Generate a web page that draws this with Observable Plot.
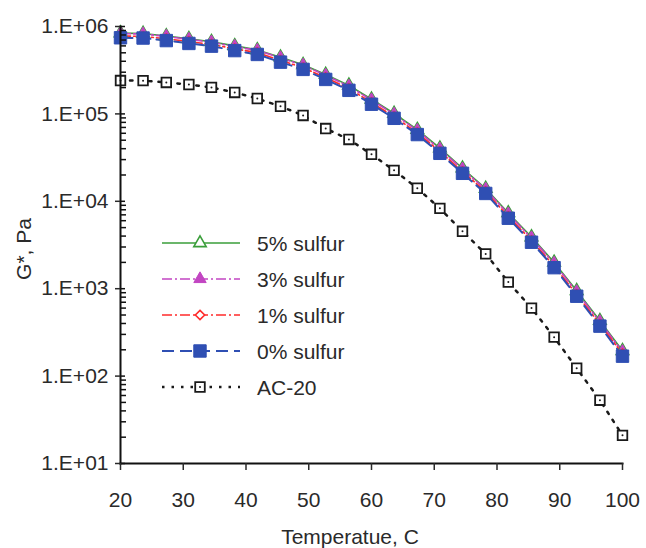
<!DOCTYPE html>
<html><head><meta charset="utf-8">
<script src="https://cdn.jsdelivr.net/npm/d3@7"></script>
<script src="https://cdn.jsdelivr.net/npm/@observablehq/plot@0.6"></script>
<style>
body{margin:0;background:#fff;}
#wrap{position:relative;width:646px;height:548px;font-family:"Liberation Sans",Arial,sans-serif;}
#legend{position:absolute;left:0;top:0;pointer-events:none;}
</style></head><body><div id="wrap"></div>
<script>
// ---- data ----
const temperature = [20, 23.6, 27.3, 30.9, 34.5, 38.2, 41.8, 45.5, 49.1, 52.7, 56.4, 60, 63.6, 67.3, 70.9, 74.5, 78.2, 81.8, 85.5, 89.1, 92.7, 96.4, 100];
const sulfur5 = [840000, 830000, 780000, 725000, 670000, 600000, 540000, 445000, 365000, 282000, 212000, 147000, 101000, 66000, 40500, 23900, 14000, 7350, 3900, 2000, 945, 430, 195];
const sulfur3 = [830000, 820000, 770000, 712000, 660000, 590000, 532000, 437000, 360000, 276000, 207000, 144000, 99000, 64500, 39500, 23300, 13700, 7150, 3800, 1950, 920, 418, 190];
const sulfur1 = [780000, 770000, 725000, 672000, 625000, 556000, 502000, 410000, 338000, 260000, 195000, 135000, 93000, 60800, 37100, 21900, 12900, 6700, 3560, 1820, 860, 392, 180];
const sulfur0 = [743000, 738000, 690000, 640000, 596000, 530000, 479000, 391000, 323000, 248000, 186000, 129000, 89000, 58000, 35400, 20900, 12300, 6400, 3400, 1740, 820, 373, 169];
const ac20 = [241000, 240000, 229000, 217000, 201000, 176000, 150000, 122000, 96000, 68000, 51000, 34500, 22600, 14100, 8300, 4540, 2500, 1190, 600, 279, 123, 53, 21];
const seriesNames = ["5% sulfur", "3% sulfur", "1% sulfur", "0% sulfur", "AC-20"];
const xTicks = [20, 30, 40, 50, 60, 70, 80, 90, 100];
const yTicks = [1e1, 1e2, 1e3, 1e4, 1e5, 1e6];
const yTickLabels = ["1.E+01", "1.E+02", "1.E+03", "1.E+04", "1.E+05", "1.E+06"];

// ---- styles ----
const W = 646, H = 548, ML = 120, MR = 24, MT = 26, MB = 85;
const FONT = "Liberation Sans, Arial, sans-serif";
const TXT = "#2a2a2a";
const styles = [
  {color:"#3a9e3a", dash:null, width:1.6, symbol:"triangle", r:4.6, fill:"white", sw:1.6},
  {color:"#c245c2", dash:"10,3,2,3", width:1.6, symbol:"triangle", r:4.6, fill:"#c245c2", sw:1},
  {color:"#ff2b2b", dash:"10,3,2,3", width:1.6, symbol:"diamond2", r:4.2, fill:"white", sw:1.6},
  {color:"#2f4fb3", dash:"12,6", width:2, symbol:"square", r:7, fill:"#2f4fb3", sw:1},
  {color:"#1a1a1a", dash:"2.5,7", width:2.5, symbol:"square", r:5.4, fill:"white", sw:1.8}
];
const allValues = [sulfur5, sulfur3, sulfur1, sulfur0, ac20];

const rows = [];
seriesNames.forEach((s, k) => allValues[k].forEach((v, i) => rows.push({series: s, t: temperature[i], g: v})));

const minorTicks = [];
for (let e = 1; e < 6; e++) for (let m = 2; m <= 9; m++) minorTicks.push(m * Math.pow(10, e));

const marks = [];
// lines
seriesNames.forEach((s, k) => {
  const st = styles[k];
  marks.push(Plot.line(rows.filter(d => d.series === s), {x: "t", y: "g", stroke: st.color, strokeWidth: st.width, strokeDasharray: st.dash || undefined}));
});
// markers
[4, 0, 1, 2, 3].forEach(k => {
  const st = styles[k];
  const data = rows.filter(d => d.series === seriesNames[k]);
  marks.push(Plot.dot(data, {x: "t", y: "g", symbol: st.symbol, r: st.r, fill: st.fill, stroke: st.color, strokeWidth: st.sw}));
  if (k === 4) marks.push(Plot.dot(data, {x: "t", y: "g", r: 1, fill: st.color}));
});
// axes
marks.push(
  Plot.frame({anchor: "left", stroke: "#111", strokeWidth: 2}),
  Plot.frame({anchor: "bottom", stroke: "#111", strokeWidth: 2}),
  Plot.tickY(minorTicks, {y: d => d, insetRight: W - ML - MR - 6, stroke: "#111", strokeWidth: 1.5}),
  Plot.tickY(yTicks, {y: d => d, insetRight: W - ML - MR - 5, stroke: "#111", strokeWidth: 1.5}),
  Plot.axisY({ticks: yTicks, tickFormat: (d) => yTickLabels[yTicks.indexOf(d)], tickSize: 5, tickPadding: 7, strokeWidth: 1.5, label: null, fontSize: 21, fill: TXT}),
  Plot.axisX({ticks: xTicks, tickSize: 7, tickPadding: 22, strokeWidth: 1.5, label: null, fontSize: 21, fill: TXT})
);

const chart = Plot.plot({
  width: W, height: H,
  marginLeft: ML, marginRight: MR, marginTop: MT, marginBottom: MB,
  style: {fontFamily: FONT, fontSize: "21px", color: TXT, background: "white"},
  x: {domain: [20, 100]},
  y: {type: "log", domain: [1e1, 1e6]},
  marks
});
document.getElementById("wrap").appendChild(chart);

// axis titles
const svg = d3.select(chart);
svg.append("text").attr("transform", "translate(31,249) rotate(-90)").attr("text-anchor", "middle")
  .attr("font-family", FONT).attr("font-size", 21).attr("fill", TXT).text("G*, Pa");
svg.append("text").attr("x", 350).attr("y", 544).attr("text-anchor", "middle")
  .attr("font-family", FONT).attr("font-size", 21).attr("fill", TXT).text("Temperatue, C");

// legend overlay
const leg = d3.select("#wrap").append("svg").attr("id", "legend").attr("width", W).attr("height", H);
seriesNames.forEach((s, k) => {
  const st = styles[k];
  const y = 243 + k * 36;
  const g = leg.append("g");
  g.append("line").attr("x1", 162).attr("x2", 240).attr("y1", y).attr("y2", y)
    .attr("stroke", st.color).attr("stroke-width", st.width).attr("stroke-dasharray", st.dash);
  const sym = {triangle: d3.symbolTriangle, diamond2: d3.symbolDiamond2, square: d3.symbolSquare}[st.symbol];
  g.append("path").attr("transform", `translate(200,${y})`).attr("d", d3.symbol(sym, st.r * st.r * Math.PI)())
    .attr("fill", st.fill).attr("stroke", st.color).attr("stroke-width", st.sw);
  if (k === 4) g.append("circle").attr("cx", 200).attr("cy", y).attr("r", 1).attr("fill", st.color);
  g.append("text").attr("x", 257).attr("y", y + 7.5).attr("font-family", FONT).attr("font-size", 21).attr("fill", TXT).text(s);
});
</script></body></html>
